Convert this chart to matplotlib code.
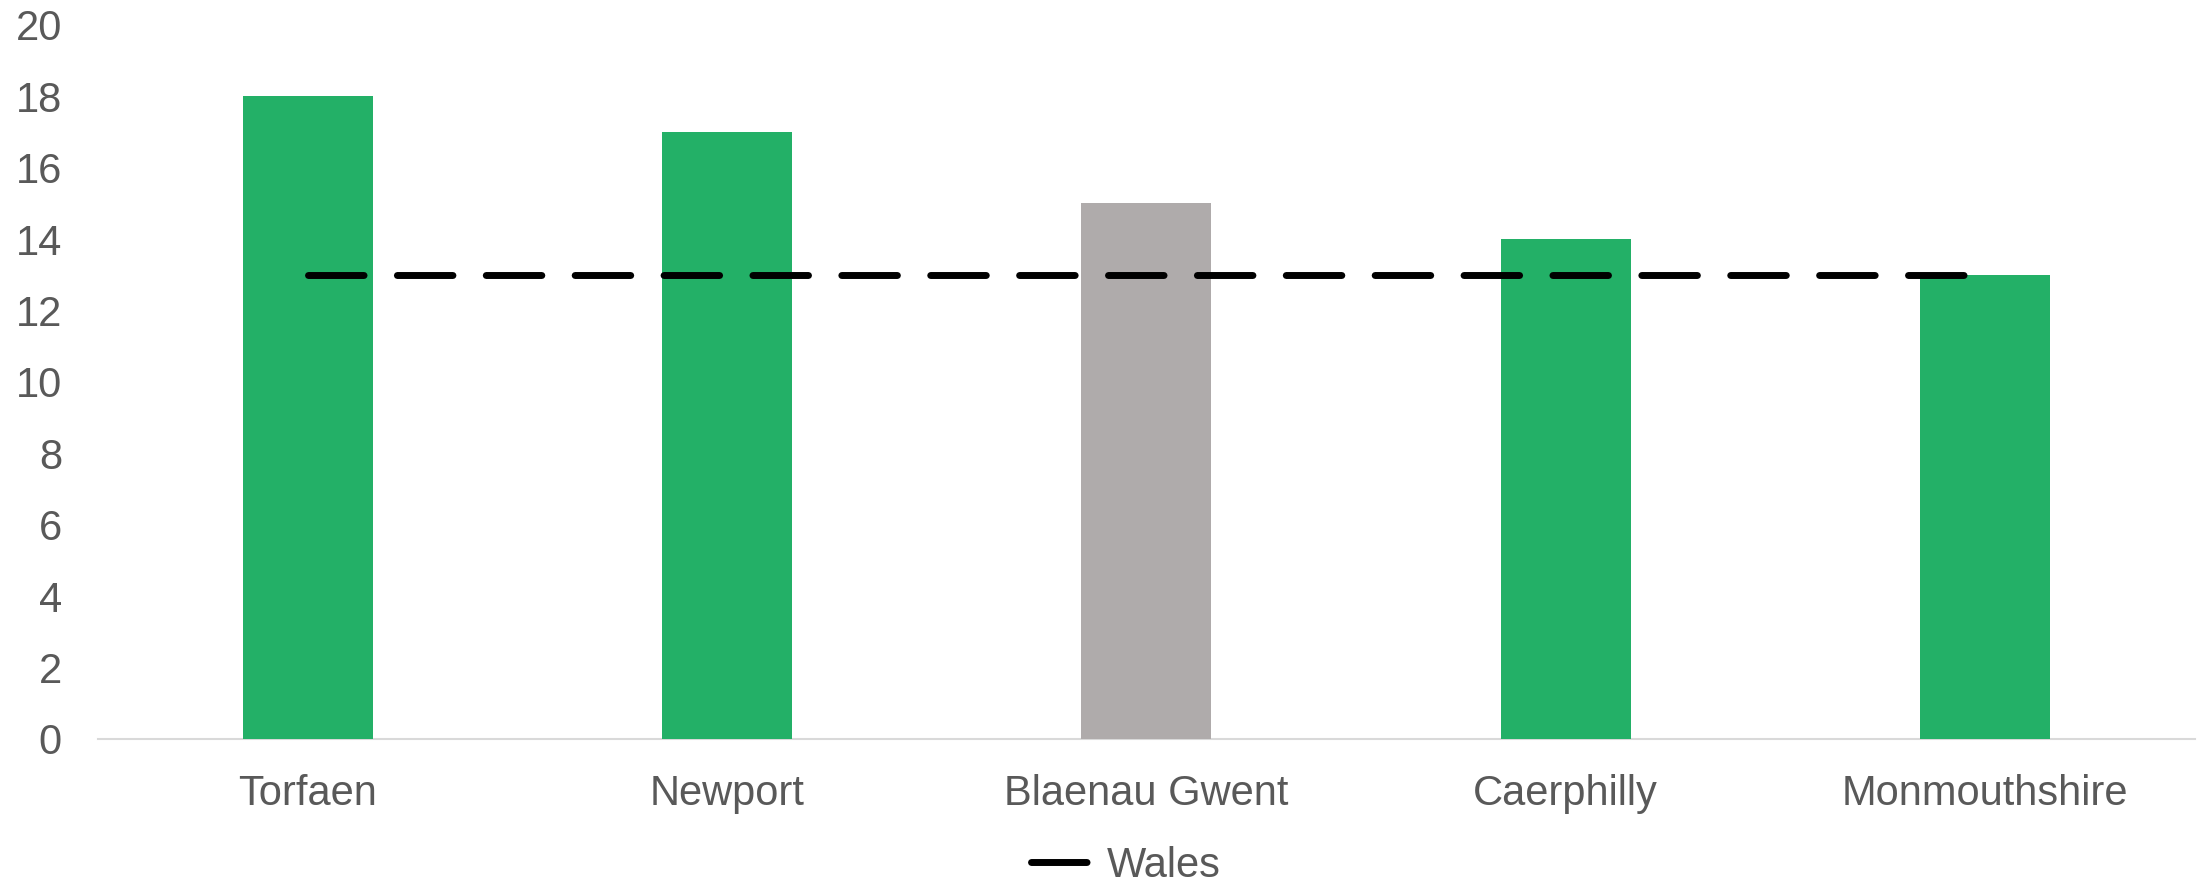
import matplotlib.pyplot as plt
import numpy as np

plt.rcParams['font.family'] = ['Liberation Sans', 'DejaVu Sans']

areas = ["Torfaen", "Newport", "Blaenau Gwent", "Caerphilly", "Monmouthshire"]
values = [18, 17, 15, 14, 13]
wales = [13, 13, 13, 13, 13]
bar_colors = ["#23B067", "#23B067", "#AFABAB", "#23B067", "#23B067"]

text_color = "#595959"

fig = plt.figure(figsize=(21.99, 8.83), dpi=100)
ax = fig.add_axes([0.0446, 0.1631, 0.9534, 0.8086])

x = np.arange(len(areas))
ax.bar(x, values, width=0.31, color=bar_colors, zorder=2)
ax.plot(x, wales, color="black", lw=5, linestyle=(0, (8, 4.8)),
        dash_capstyle="round", solid_capstyle="round", label="Wales", zorder=3)

ax.set_xlim(-0.5, len(areas) - 0.5)
ax.set_ylim(0, 20)
ax.set_yticks(range(0, 21, 2))
ax.set_xticks(x)
ax.set_xticklabels(areas)

for s in ["top", "right", "left"]:
    ax.spines[s].set_visible(False)
ax.spines["bottom"].set_color("#D9D9D9")
ax.spines["bottom"].set_linewidth(1.5)
ax.spines["bottom"].set_zorder(1)

ax.tick_params(axis="both", length=0, labelsize=30, labelcolor=text_color)
ax.tick_params(axis="y", pad=26)
ax.tick_params(axis="x", pad=25)

fig.legend(loc="center", bbox_to_anchor=(0.512, 1 - 866 / 883), frameon=False,
           fontsize=30, handlelength=1.4, handletextpad=0.4, labelcolor=text_color)

fig.savefig("out.png", dpi=100)
